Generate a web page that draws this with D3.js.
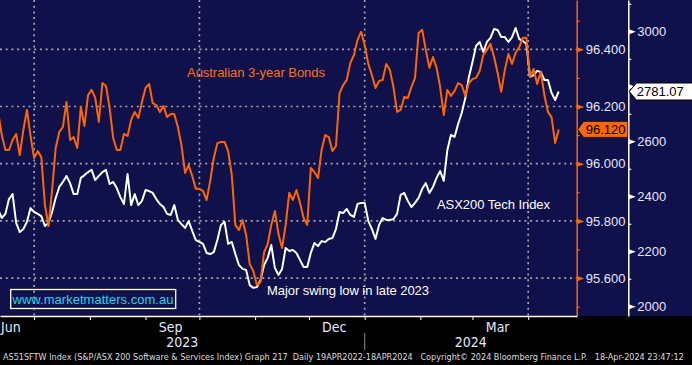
<!DOCTYPE html>
<html>
<head>
<meta charset="utf-8">
<script src="https://cdn.jsdelivr.net/npm/d3@7"></script>
<style>
  html, body { margin: 0; padding: 0; background: #000; }
  svg { display: block; }
</style>
</head>
<body>
<div id="chart"></div>
<script>
// samples, one every 2 calendar days from startDate
const startDate = "2023-06-11";
const stepDays = 2;

// Australian 3-year bond futures (orange line, left of the two right axes)
const bondValues = [
  96.181, 96.100, 96.048, 96.048, 96.083, 96.104, 96.030, 96.118, 96.188, 96.097,
  96.020, 96.044, 96.023, 95.856, 95.782, 95.908, 96.055, 96.111, 96.128, 96.216,
  96.083, 96.093, 96.055, 96.198, 96.132, 96.240, 96.258, 96.230, 96.146, 96.282,
  96.272, 96.195, 96.090, 96.048, 96.048, 96.104, 96.097, 96.153, 96.181, 96.160,
  96.216, 96.265, 96.279, 96.212, 96.205, 96.181, 96.202, 96.163, 96.174, 96.174,
  96.128, 96.065, 95.968, 95.995, 95.957, 95.912, 95.912, 95.905, 95.873, 95.940,
  96.020, 96.072, 96.076, 96.076, 96.044, 95.961, 95.786, 95.768, 95.803, 95.751,
  95.649, 95.625, 95.576, 95.586, 95.691, 95.719, 95.786, 95.835, 95.754, 95.705,
  95.786, 95.898, 95.873, 95.908, 95.863, 95.810, 95.786, 95.985, 95.971, 95.950,
  96.048, 96.100, 96.093, 96.044, 96.062, 96.247, 96.275, 96.293, 96.352, 96.380,
  96.433, 96.461, 96.415, 96.349, 96.310, 96.265, 96.289, 96.293, 96.349, 96.328,
  96.268, 96.181, 96.188, 96.233, 96.230, 96.268, 96.300, 96.457, 96.468, 96.398,
  96.335, 96.373, 96.335, 96.268, 96.170, 96.258, 96.237, 96.254, 96.282, 96.275,
  96.237, 96.282, 96.296, 96.300, 96.324, 96.380, 96.398, 96.419, 96.373, 96.317,
  96.251, 96.328, 96.384, 96.349, 96.387, 96.408, 96.440, 96.440, 96.303, 96.331,
  96.279, 96.321, 96.240, 96.181, 96.163, 96.072, 96.120
];

// S&P/ASX 200 Software & Services index (white line, far right axis)
const techValues = [
  2350, 2321, 2336, 2390, 2408, 2303, 2270, 2281, 2307, 2357,
  2343, 2336, 2328, 2292, 2303, 2343, 2394, 2434, 2452, 2474,
  2448, 2408, 2408, 2467, 2477, 2488, 2496, 2459, 2474, 2488,
  2496, 2445, 2452, 2430, 2397, 2372, 2481, 2368, 2408, 2368,
  2383, 2423, 2419, 2412, 2390, 2372, 2361, 2336, 2332, 2368,
  2314, 2299, 2285, 2310, 2274, 2241, 2234, 2227, 2194, 2190,
  2197, 2241, 2296, 2307, 2227, 2234, 2190, 2150, 2136, 2132,
  2077, 2067, 2070, 2096, 2150, 2176, 2223, 2139, 2114, 2136,
  2212, 2201, 2205, 2194, 2168, 2143, 2143, 2194, 2230, 2219,
  2237, 2234, 2245, 2248, 2281, 2343, 2339, 2354, 2332, 2325,
  2372, 2376, 2376, 2310, 2281, 2245, 2296, 2321, 2314, 2314,
  2317, 2336, 2405, 2412, 2383, 2361, 2376, 2394, 2427, 2448,
  2412, 2434, 2467, 2492, 2456, 2568, 2623, 2616, 2663, 2703,
  2757, 2834, 2888, 2947, 2961, 2925, 2961, 2976, 3008, 3005,
  2979, 2979, 2961, 2979, 3012, 2972, 2965, 2954, 2834, 2841,
  2856, 2852, 2823, 2823, 2776, 2750, 2781.07
];

const bondTicks = [95.6, 95.8, 96.0, 96.2, 96.4];
const techTicks = [2000, 2200, 2400, 2600, 2800, 3000];
const monthLabels = ["Jun", "Sep", "Dec", "Mar"];
const yearLabels = ["2023", "2024"];
const footerText = "AS51SFTW Index (S&P/ASX 200 Software & Services Index) Graph 217  Daily 19APR2022-18APR2024   Copyright\u00a9 2024 Bloomberg Finance L.P.   18-Apr-2024 23:47:12";

const W = 692, H = 365;
const plotW = 576.7, plotH = 316, techAxisX = 628.3;
const ORANGE = "#ff6600", NAVY = "#10104a", GRID = "#a4a4b4", LABEL = "#e6e6ff";
const FONT = "'Liberation Sans', Arial, sans-serif";
const NARROW = "'Liberation Sans Narrow', 'DejaVu Sans Condensed', 'Liberation Sans', sans-serif";

const svg = d3.select("#chart").append("svg").attr("width", W).attr("height", H);
svg.append("rect").attr("width", W).attr("height", H).attr("fill", "#000");
svg.append("rect").attr("width", W).attr("height", plotH).attr("fill", NAVY);

const parseDay = d3.timeParse("%Y-%m-%d");
const t0 = parseDay(startDate);
const bond = bondValues.map((v, i) => ({ date: d3.timeDay.offset(t0, i * stepDays), v }));
const tech = techValues.map((v, i) => ({ date: d3.timeDay.offset(t0, i * stepDays), v }));

const x = d3.scaleTime().domain([parseDay("2023-06-12"), parseDay("2024-04-28")]).range([0, plotW]);
const yB = d3.scaleLinear().domain([95.4675, 96.5724]).range([plotH, 0]);
const yT = d3.scaleLinear().domain([1964.7, 3113.8]).range([plotH, 0]);

const lastBond = bond[bond.length - 1], lastTech = tech[tech.length - 1];
const by = yB(lastBond.v), ty = yT(lastTech.v);

// grid
const months = d3.timeMonth.range(x.domain()[0], x.domain()[1]);
const quarters = months.filter(d => d.getMonth() % 3 === 0);
const grid = svg.append("g")
  .attr("stroke", GRID).attr("stroke-width", 1.7).attr("stroke-dasharray", "2,3.7");
grid.selectAll(".h").data(bondTicks).join("line")
  .attr("x1", 0).attr("x2", plotW).attr("y1", d => yB(d)).attr("y2", d => yB(d));
grid.selectAll(".v").data(quarters).join("line")
  .attr("x1", d => x(d)).attr("x2", d => x(d)).attr("y1", 0).attr("y2", plotH);

// lines
svg.append("clipPath").attr("id", "plot").append("rect").attr("width", plotW).attr("height", plotH);
const plot = svg.append("g").attr("clip-path", "url(#plot)");
plot.append("path").datum(tech)
  .attr("fill", "none").attr("stroke", "#fff").attr("stroke-width", 2).attr("stroke-linejoin", "round")
  .attr("d", d3.line().x(d => x(d.date)).y(d => yT(d.v)));
plot.append("path").datum(bond)
  .attr("fill", "none").attr("stroke", ORANGE).attr("stroke-width", 2).attr("stroke-linejoin", "round")
  .attr("d", d3.line().x(d => x(d.date)).y(d => yB(d.v)));

// right axes; a label hidden behind the last-value box is left out
function rightAxis(scale, ax, major, color, fmt, boxY) {
  const minor = scale.ticks(10).filter(t => !major.some(m => Math.abs(m - t) < 1e-6));
  const g = svg.append("g").attr("transform", `translate(${ax},0)`)
    .call(d3.axisRight(scale).tickValues(minor).tickSize(3).tickSizeOuter(0).tickFormat(""));
  g.select(".domain").attr("stroke", color).attr("stroke-width", 1.5);
  g.selectAll(".tick line").attr("stroke", color).attr("stroke-width", 1.2);

  const lab = svg.append("g").attr("transform", `translate(${ax},0)`)
    .call(d3.axisRight(scale).tickValues(major).tickSize(0).tickPadding(9)
      .tickFormat(d => Math.abs(scale(d) - boxY) < 14 ? "" : fmt(d)))
    .attr("font-size", 13).attr("font-family", FONT);
  lab.select(".domain").remove();
  lab.selectAll(".tick text").attr("fill", LABEL);
  lab.selectAll(".tick").append("path").attr("d", "M0,-2.8L7.5,0L0,2.8Z").attr("fill", color);
}
rightAxis(yB, plotW, bondTicks, ORANGE, d3.format(".3f"), by);
rightAxis(yT, techAxisX, techTicks, "#fff", d3.format("d"), ty);

// last value boxes
svg.append("path")
  .attr("d", `M${plotW + 1},${by}L${plotW + 7},${by - 8}H${techAxisX - 0.5}V${by + 8}H${plotW + 7}Z`)
  .attr("fill", ORANGE).attr("stroke", "#000").attr("stroke-width", 0.6);
svg.append("text").attr("x", plotW + 9).attr("y", by).attr("dy", "0.35em")
  .attr("font-size", 13).attr("font-family", FONT).attr("fill", "#000")
  .text(d3.format(".3f")(lastBond.v));
svg.append("path")
  .attr("d", `M${techAxisX + 1},${ty}L${techAxisX + 8},${ty - 8.5}H${W + 2}V${ty + 8.5}H${techAxisX + 8}Z`)
  .attr("fill", "#fff").attr("stroke", "#000").attr("stroke-width", 1);
svg.append("text").attr("x", techAxisX + 8.5).attr("y", ty).attr("dy", "0.35em")
  .attr("font-size", 13).attr("font-family", FONT).attr("fill", "#000")
  .text(d3.format(".2f")(lastTech.v));

// x axis
const xAxisG = svg.append("g").attr("transform", `translate(0,${plotH})`)
  .call(d3.axisBottom(x).tickValues(months).tickSize(4).tickSizeOuter(0).tickFormat(""));
xAxisG.select(".domain").attr("stroke", "#fff").attr("stroke-width", 1.5);
xAxisG.selectAll(".tick line").attr("stroke", "#fff");

const fmtMonth = d3.timeFormat("%b");
const labelMonths = d3.timeMonth.range(d3.timeMonth.floor(x.domain()[0]), x.domain()[1])
  .filter(d => monthLabels.includes(fmtMonth(d)));
svg.selectAll(".mlab").data(labelMonths).join("text")
  .attr("class", "mlab")
  .attr("y", 332).attr("font-size", 14).attr("font-family", NARROW).attr("fill", LABEL)
  .text(d => fmtMonth(d))
  .each(function (d) {
    const w = this.getComputedTextLength();
    const cx = x(d3.timeDay.offset(d, 14));
    d3.select(this).attr("x", Math.max(1, cx - w / 2));
  });

const yearStarts = d3.timeYear.range(x.domain()[0], x.domain()[1]);
const bounds = [0, ...yearStarts.map(d => x(d)), plotW];
svg.selectAll(".ylab").data(yearLabels).join("text")
  .attr("class", "ylab")
  .attr("x", (d, i) => (bounds[i] + bounds[i + 1]) / 2).attr("y", 347)
  .attr("text-anchor", "middle").attr("font-size", 14).attr("font-family", NARROW).attr("fill", LABEL)
  .text(d => d);
svg.selectAll(".ydiv").data(yearStarts).join("line")
  .attr("x1", d => x(d)).attr("x2", d => x(d)).attr("y1", 333).attr("y2", 350)
  .attr("stroke", "#8a8a8a").attr("stroke-width", 1);

// annotations
svg.append("text").attr("x", 187).attr("y", 77).attr("font-size", 13).attr("font-family", FONT)
  .attr("fill", "#ff7010").attr("textLength", 138).text("Australian 3-year Bonds");
svg.append("text").attr("x", 437).attr("y", 208.5).attr("font-size", 13).attr("font-family", FONT)
  .attr("fill", "#fff").attr("textLength", 113).text("ASX200 Tech Index");
svg.append("text").attr("x", 267).attr("y", 294.5).attr("font-size", 13).attr("font-family", FONT)
  .attr("fill", "#fff").attr("textLength", 162).text("Major swing low in late 2023");

svg.append("rect").attr("x", 10.7).attr("y", 289.5).attr("width", 165).attr("height", 19)
  .attr("fill", "none").attr("stroke", "#fff").attr("stroke-width", 1.3);
svg.append("text").attr("x", 12.5).attr("y", 304).attr("font-size", 13).attr("font-family", FONT)
  .attr("fill", "#1ad6f0").attr("textLength", 161).text("www.marketmatters.com.au");

// footer, sized so it spans the width without stretching
const footer = svg.append("text").attr("x", 3).attr("y", 360).attr("font-size", 10)
  .attr("font-family", NARROW).attr("fill", "#dcdcdc").style("white-space", "pre")
  .text(footerText);
const natural = footer.node().getComputedTextLength();
footer.attr("font-size", Math.min(11, 10 * 682 / natural));
</script>
</body>
</html>
